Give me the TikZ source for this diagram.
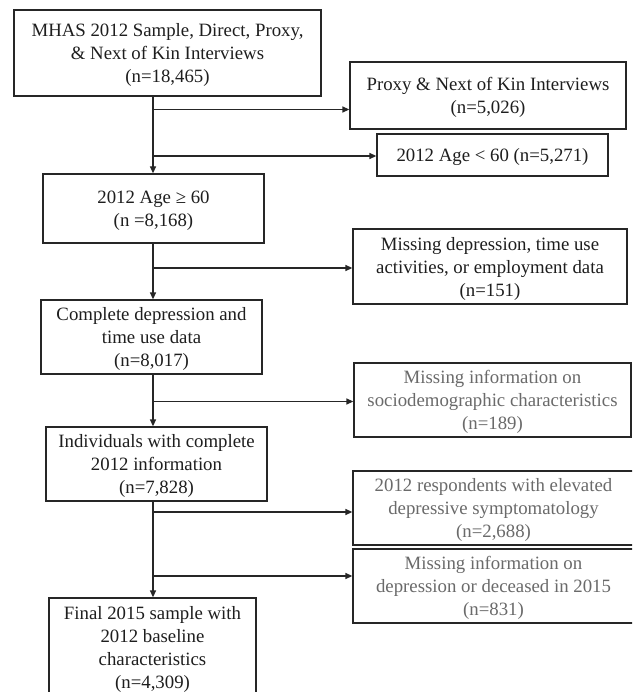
\documentclass[tikz,border=0pt]{standalone}
\usepackage{fontspec}
\setmainfont{Liberation Serif}
\usetikzlibrary{arrows.meta}
\definecolor{linec}{HTML}{262626}
\definecolor{txt}{HTML}{1E1E1E}
\definecolor{gtxt}{HTML}{6A6A6A}
\begin{document}
\begin{tikzpicture}[x=1pt,y=-1pt,
  box/.style={draw=linec, line width=1.3pt, inner sep=0pt, align=center,
    font=\fontsize{18.8}{23}\selectfont, text=txt, text depth=-2pt},
  gbox/.style={box, text=gtxt},
  arr/.style={draw=linec, line width=1.3pt, -{Triangle[length=7pt,width=6pt]}}]
\useasboundingbox (0,0) rectangle (632,692);
\clip (0,0) rectangle (632,692);
\fill[white] (0,0) rectangle (632,692);
\coordinate (sp) at (153,0);
\node[box, minimum width=307pt, minimum height=86pt] (b1) at (167.5,53)
  {MHAS 2012 Sample, Direct, Proxy,\\ \& Next of Kin Interviews\\ (n=18,465)};
\node[box, minimum width=276pt, minimum height=67pt] (r1) at (488,95.5)
  {Proxy \& Next of Kin Interviews\\ (n=5,026)};
\node[box, minimum width=231pt, minimum height=42pt] (r2) at (492.5,155)
  {2012 Age < 60 (n=5,271)};
\node[box, minimum width=221pt, minimum height=69pt] (b2) at (153.5,208.5)
  {2012 Age ≥ 60\\ (n =8,168)};
\node[box, minimum width=274pt, minimum height=75pt] (r3) at (490,266.5)
  {Missing depression, time use\\ activities, or employment data\\ (n=151)};
\node[box, minimum width=221pt, minimum height=74pt] (b3) at (151.5,337)
  {Complete depression and\\ time use data\\ (n=8,017)};
\node[gbox, minimum width=277pt, minimum height=74pt] (r4) at (492.5,400)
  {Missing information on\\ sociodemographic characteristics\\ (n=189)};
\node[box, minimum width=221pt, minimum height=74pt] (b4) at (156.5,464)
  {Individuals with complete\\ 2012 information\\ (n=7,828)};
\node[gbox, minimum width=281pt, minimum height=74pt] (r5) at (493.5,508)
  {2012 respondents with elevated\\ depressive symptomatology\\ (n=2,688)};
\node[gbox, minimum width=281pt, minimum height=74pt] (r6) at (493.5,586)
  {Missing information on\\ depression or deceased in 2015\\ (n=831)};
\node[box, minimum width=207pt, minimum height=99pt] (b5) at (152.5,647.5)
  {Final 2015 sample with\\ 2012 baseline\\ characteristics\\ (n=4,309)};
% spine
\draw[arr] (b1.south -| sp) -- (b2.north -| sp);
\draw[arr] (b2.south -| sp) -- (b3.north -| sp);
\draw[arr] (b3.south -| sp) -- (b4.north -| sp);
\draw[arr] (b4.south -| sp) -- (b5.north -| sp);
% branches
\draw[arr] ([yshift=-14pt]r1.west -| sp) -- ([yshift=-14pt]r1.west);
\draw[arr] ([yshift=-1pt]r2.west -| sp) -- ([yshift=-1pt]r2.west);
\draw[arr] ([yshift=-1.5pt]r3.west -| sp) -- ([yshift=-1.5pt]r3.west);
\draw[arr] ([yshift=-1.5pt]r4.west -| sp) -- ([yshift=-1.5pt]r4.west);
\draw[arr] ([yshift=-4pt]r5.west -| sp) -- ([yshift=-4pt]r5.west);
\draw[arr] ([yshift=10pt]r6.west -| sp) -- ([yshift=10pt]r6.west);
\end{tikzpicture}
\end{document}
